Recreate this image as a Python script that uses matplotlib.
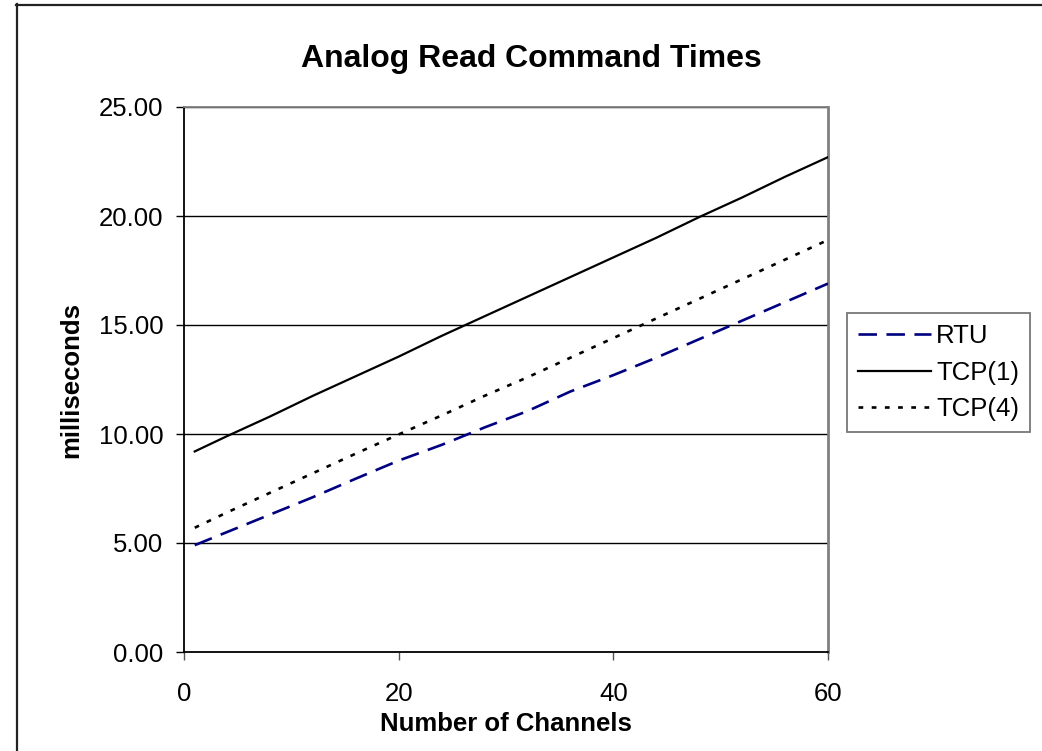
import matplotlib
matplotlib.use("Agg")
import matplotlib.pyplot as plt
from matplotlib.lines import Line2D

plt.rcParams['font.family'] = ['Liberation Sans', 'DejaVu Sans']

channels = [1, 4, 8, 12, 16, 20, 24, 28, 32, 36, 40, 44, 48, 52, 56, 60]
rtu = [4.90, 5.50, 6.30, 7.10, 7.95, 8.78, 9.50, 10.30, 11.05, 11.95, 12.70, 13.50, 14.35, 15.20, 16.05, 16.90]
tcp1 = [9.20, 9.90, 10.80, 11.75, 12.65, 13.55, 14.50, 15.40, 16.30, 17.20, 18.10, 19.00, 19.95, 20.85, 21.80, 22.70]
tcp4 = [5.70, 6.40, 7.30, 8.20, 9.10, 9.98, 10.85, 11.75, 12.60, 13.50, 14.40, 15.30, 16.20, 17.10, 18.00, 18.90]

title = "Analog Read Command Times"
xlabel = "Number of Channels"
ylabel = "milliseconds"
series_names = ["RTU", "TCP(1)", "TCP(4)"]
xticks = [0, 20, 40, 60]
yticks = [0, 5, 10, 15, 20, 25]

W, H = 1042, 751
fig = plt.figure(figsize=(W / 100, H / 100), dpi=100)
fig.patch.set_facecolor('white')

ax = fig.add_axes([184 / W, 1 - 652 / H, (828 - 184) / W, (652 - 107) / H])
ax.set_xlim(0, 60)
ax.set_ylim(0, 25)

for y in yticks[1:]:
    ax.axhline(y, color='black', lw=1.0, zorder=1)

l1, = ax.plot(channels, rtu, color='#000080', lw=1.9, dashes=(7, 3.6), dash_capstyle='butt', label=series_names[0], zorder=3)
l2, = ax.plot(channels, tcp1, color='black', lw=1.6, label=series_names[1], zorder=3)
l3, = ax.plot(channels, tcp4, color='black', lw=1.9, dashes=(1.8, 3.2), dash_capstyle='butt', label=series_names[2], zorder=3)

ax.set_xticks(xticks)
ax.set_yticks(yticks)
ax.set_yticklabels([f"{v:.2f}" for v in yticks])
ax.tick_params(axis='x', direction='out', length=6, width=1, labelsize=18.5, pad=15.5, color='#555555')
ax.tick_params(axis='y', direction='out', length=5.5, width=1, labelsize=18.5, pad=9.5, color='black')

ax.spines['left'].set_color('black')
ax.spines['bottom'].set_color('black')
ax.spines['left'].set_linewidth(1.3)
ax.spines['bottom'].set_linewidth(1.3)
ax.spines['top'].set_color('#808080')
ax.spines['right'].set_color('#808080')
ax.spines['top'].set_linewidth(1.3)
ax.spines['right'].set_linewidth(2)

fig.text(531.5 / W, 1 - 67 / H, title, ha='center', va='baseline', fontsize=23, fontweight='bold')
fig.text(506 / W, 1 - 731 / H, xlabel, ha='center', va='baseline', fontsize=18.5, fontweight='bold')
fig.text(71 / W, 1 - 380 / H, ylabel, ha='center', va='center', rotation=90, fontsize=18.5, fontweight='bold')

leg = fig.legend(handles=[l1, l2, l3], loc='upper left',
                 bbox_to_anchor=(847 / W, 1 - 313 / H), bbox_transform=fig.transFigure,
                 fontsize=18.5, frameon=True, fancybox=False, handlelength=2.85,
                 handletextpad=0.2, borderpad=0.42, labelspacing=0.5, borderaxespad=0)
leg.get_frame().set_edgecolor('#555555')
leg.get_frame().set_linewidth(1.3)

# chart area border
fig.add_artist(Line2D([16.5 / W, 16.5 / W], [1 - 4 / H, -0.05], transform=fig.transFigure, color='#222222', lw=1.6))
fig.add_artist(Line2D([16 / W, 1.05], [1 - 4.5 / H, 1 - 4.5 / H], transform=fig.transFigure, color='#222222', lw=1.6))

fig.savefig("out.png", dpi=100, facecolor='white')
